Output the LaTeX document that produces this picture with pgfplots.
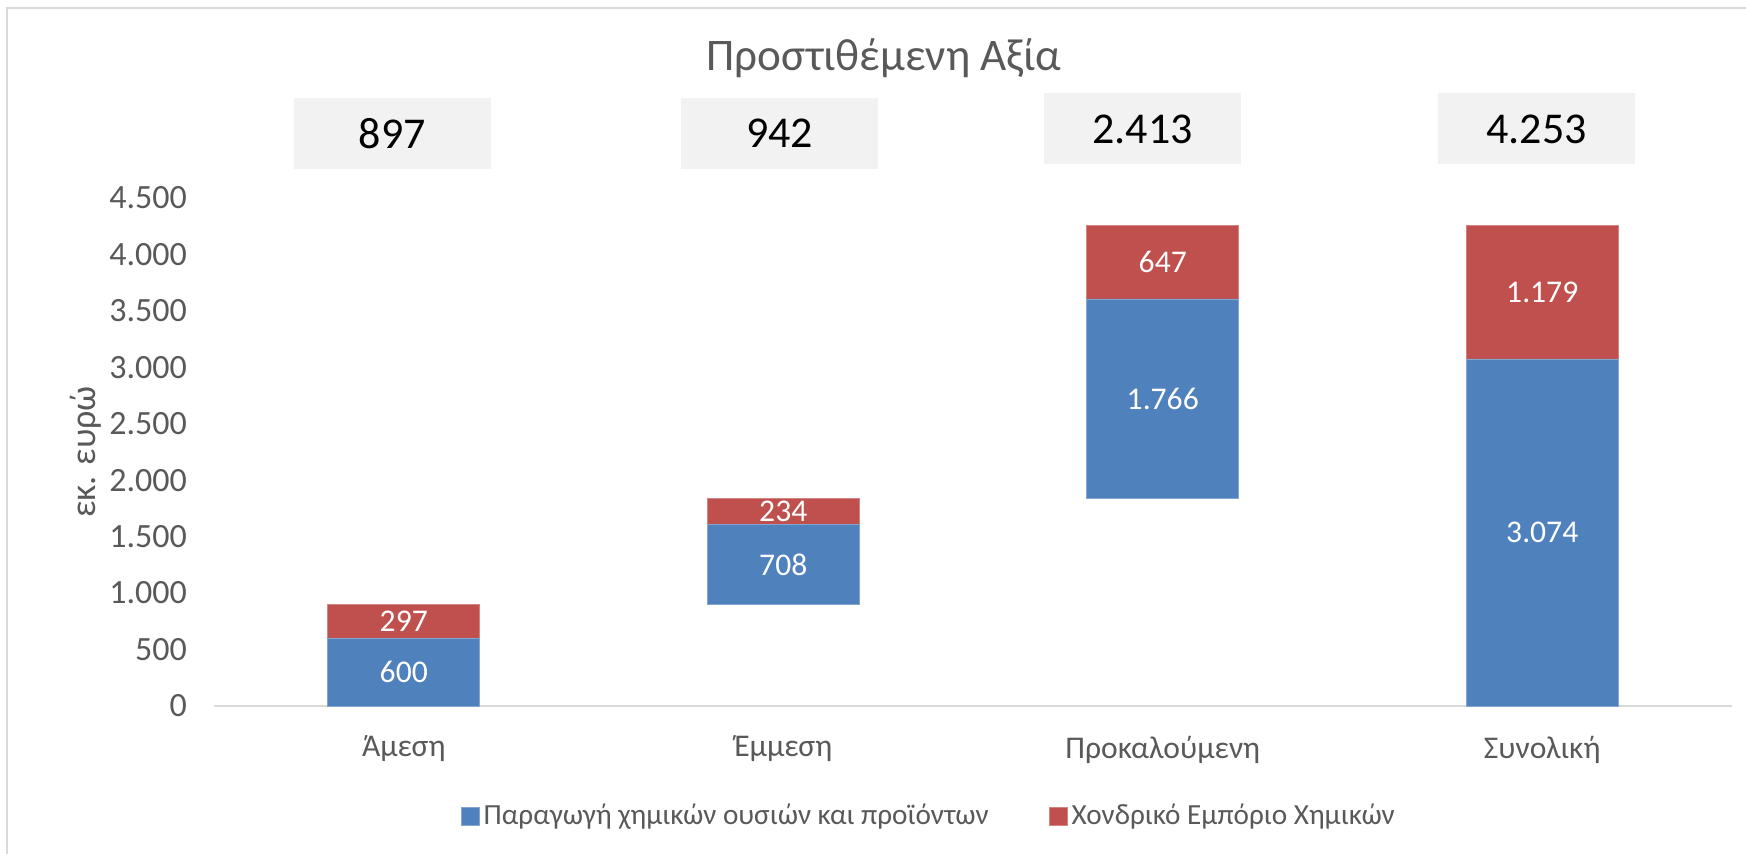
\documentclass[border=0pt]{standalone}
\usepackage{pgfplots}
\pgfplotsset{compat=1.18}
\usepackage{fontspec}
\setmainfont{Carlito}
\definecolor{xlblue}{HTML}{4F81BD}
\definecolor{xlred}{HTML}{C0504D}
\definecolor{xltext}{HTML}{595959}
\definecolor{xlline}{HTML}{D9D9D9}
\definecolor{xlbox}{HTML}{F2F2F2}

\begin{document}
\begin{tikzpicture}
% page: 1746x854 px at 0.5pt per px
\useasboundingbox (0,0) rectangle (873pt,427pt);
\draw[xlline, line width=0.8pt] (3.5pt,0) -- (3.5pt,423pt) -- (873pt,423pt);

\node[text=xltext, font=\fontsize{22.6}{27}\selectfont] at (442pt,398pt) {Προστιθέμενη Αξία};

\begin{axis}[
    at={(107pt,74pt)}, anchor=south west,
    scale only axis,
    width=759pt, height=254pt,
    ybar stacked,
    bar width=0.4,
    xmin=-0.5, xmax=3.5,
    ymin=0, ymax=4500,
    ytick={0,500,...,4500},
    xtick={0,1,2,3},
    xticklabels={Άμεση, Έμμεση, Προκαλούμενη, Συνολική},
    axis x line*=bottom,
    axis y line*=left,
    x axis line style={xlline, line width=1.2pt, -},
    y axis line style={draw=none},
    major tick length=0pt,
    tick label style={text=xltext, font=\fontsize{15.8}{19}\selectfont},
    xticklabel style={yshift=-11.5pt},
    yticklabel style={xshift=-10pt, font=\fontsize{17}{20}\selectfont},
    /pgf/number format/.cd, use comma, 1000 sep={.}, assume math mode=true,
    /pgfplots/.cd,
    ylabel={εκ. ευρώ},
    every axis y label/.style={at={(rel axis cs:0,0.5)}, xshift=-64pt,
        rotate=90, anchor=center, text=xltext, font=\fontsize{18}{21}\selectfont},
    legend style={at={(rel axis cs:0.4716,-0.2165)}, anchor=center,
        draw=none, fill=none, font=\fontsize{14.6}{17}\selectfont,
        text=xltext, legend columns=2,
        /tikz/every even column/.append style={column sep=28pt}},
    legend image code/.code={\fill[#1] (0pt,-4.5pt) rectangle (9pt,4.5pt);},
    clip=false,
]
% invisible base of the waterfall
\addplot[draw=none, fill=none, forget plot] coordinates {(0,0) (1,897) (2,1840) (3,0)};
\addplot[fill=xlblue, draw=xlblue!70!white] coordinates {(0,600) (1,708) (2,1766) (3,3074)};
\addlegendentry{Παραγωγή χημικών ουσιών και προϊόντων}
\addplot[fill=xlred, draw=xlred!70!white] coordinates {(0,297) (1,234) (2,647) (3,1179)};
\addlegendentry{Χονδρικό Εμπόριο Χημικών}
\end{axis}

% labels, overlaid on an axis with the same frame and no stacking
\begin{axis}[
    at={(107pt,74pt)}, anchor=south west,
    scale only axis,
    width=759pt, height=254pt,
    xmin=-0.5, xmax=3.5,
    ymin=0, ymax=4500,
    hide axis, clip=false,
]
\addplot[draw=none, mark=none, nodes near coords, point meta=explicit symbolic,
    every node near coord/.style={anchor=center, text=white,
        font=\fontsize{15.8}{19}\selectfont}]
    coordinates {
    (0,300) [600] (0,748.5) [297]
    (1,1251) [708] (1,1722) [234]
    (2,2723) [1.766] (2,3929.5) [647]
    (3,1537) [3.074] (3,3663.5) [1.179]
    };
\addplot[draw=none, mark=none, nodes near coords, point meta=explicit symbolic,
    every node near coord/.style={anchor=center, text=black, fill=xlbox,
        minimum width=98.5pt, minimum height=35.5pt,
        font=\fontsize{22}{26}\selectfont}]
    coordinates {
    (-0.03,5072) [897] (0.99,5072) [942]
    (1.947,5112) [2.413] (2.985,5112) [4.253]
    };
\end{axis}
\end{tikzpicture}
\end{document}
